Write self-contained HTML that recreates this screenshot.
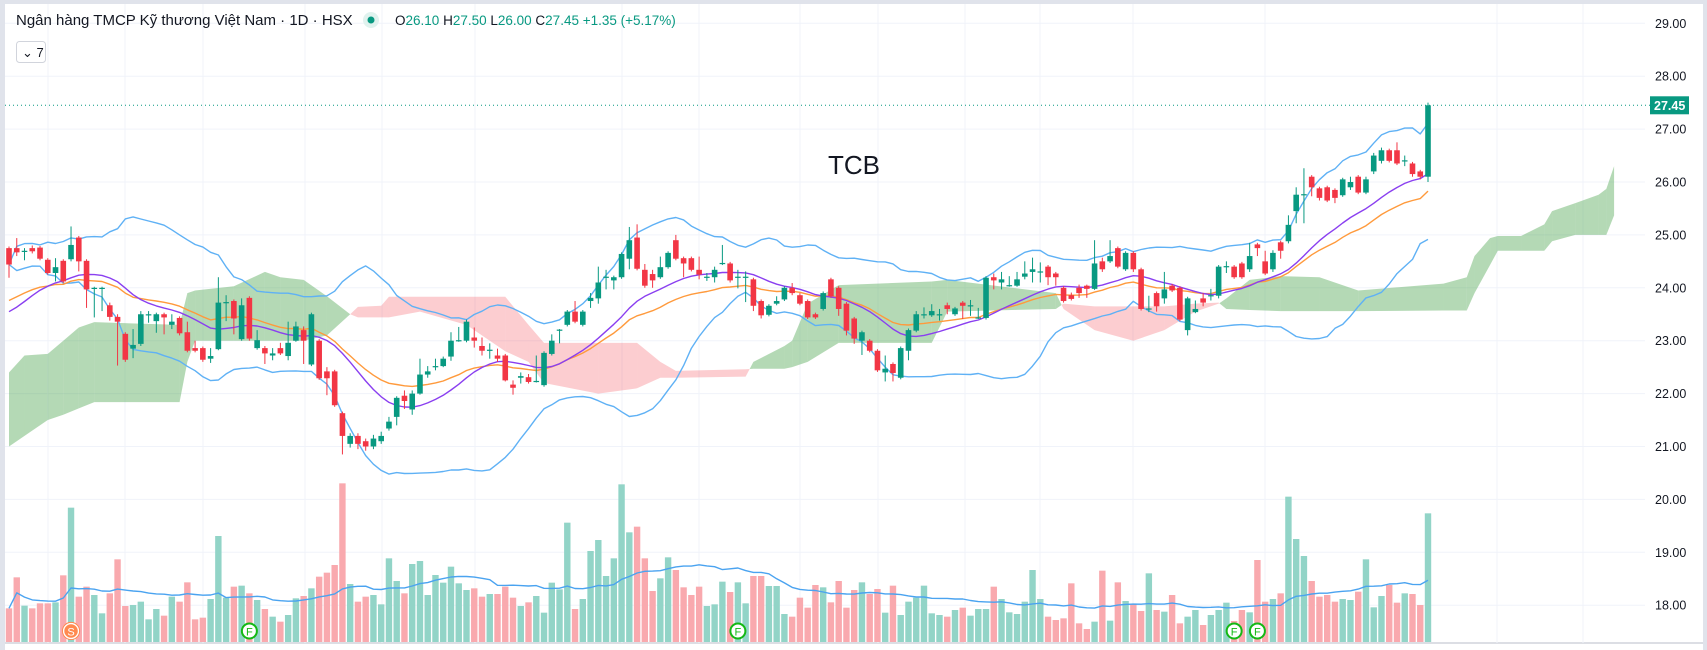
<!DOCTYPE html>
<html><head><meta charset="utf-8">
<style>
html,body{margin:0;padding:0;background:#fff;width:1707px;height:650px;overflow:hidden;}
svg{display:block;font-family:"Liberation Sans","Noto Sans CJK SC",sans-serif;}
</style></head>
<body>
<svg id="chart" width="1707" height="650" viewBox="0 0 1707 650" xmlns="http://www.w3.org/2000/svg">
  <rect x="0" y="0" width="1707" height="650" fill="#ffffff"/>
  <rect x="0" y="0" width="1707" height="4" fill="#e0e3eb"/>
  <rect x="0" y="0" width="5" height="650" fill="#e0e3eb"/>
  <rect x="1703" y="0" width="4" height="650" fill="#e0e3eb"/>
  <line x1="5" y1="643" x2="1703" y2="643" stroke="#d1d4dc" stroke-width="1.5"/>
  <g id="grid"></g>
  <g id="cloud"></g>
  <g id="volume"></g>
  <g id="lines"></g>
  <g id="candles"></g>
  <g id="axis"></g>
  <g id="markers"></g>
  <text x="828" y="174" font-size="26" fill="#131722">TCB</text>
  <g>
    <text x="16" y="25" font-size="15" fill="#131722">Ngân hàng TMCP Kỹ thương Việt Nam · 1D · HSX</text>
    <circle cx="371" cy="20" r="8" fill="#e0f2ee"/>
    <circle cx="371" cy="20" r="3.5" fill="#089981"/>
    <text x="395" y="25" font-size="13.5" fill="#089981"><tspan fill="#131722">O</tspan>26.10 <tspan fill="#131722">H</tspan>27.50 <tspan fill="#131722">L</tspan>26.00 <tspan fill="#131722">C</tspan>27.45 +1.35 (+5.17%)</text>
  </g>
  <g>
    <rect x="16.5" y="41.5" width="29" height="21" rx="3" fill="#fff" stroke="#d1d4dc"/>
    <text x="22" y="57" font-size="13" fill="#131722">⌄ 7</text>
  </g>
</svg>
<script>
// ---- price data (per daily bar) ----
const opens = [24.75,24.75,24.69,24.75,24.76,24.53,24.28,24.51,24.54,24.95,24.51,23.99,23.99,23.67,23.45,23.13,22.85,22.94,23.49,23.37,23.5,23.3,23.43,23.16,22.86,22.86,22.66,22.84,23.72,23.75,23.03,23.81,22.86,22.86,22.72,22.86,22.71,23.0,23.2,22.55,23.0,22.42,22.42,21.63,21.05,21.2,21.1,21.0,21.1,21.34,21.56,21.96,21.7,22.0,22.36,22.51,22.52,22.7,23.0,23.0,23.06,22.9,22.82,22.72,22.72,22.17,22.3,22.31,22.23,22.16,22.75,23.2,23.3,23.55,23.3,23.75,23.8,24.2,24.14,24.2,24.55,24.95,24.34,24.26,24.2,24.39,24.9,24.56,24.56,24.34,24.2,24.2,24.46,24.46,24.2,24.2,24.16,23.75,23.49,23.7,23.78,24.0,23.86,23.75,23.5,23.6,24.16,24.0,23.7,23.42,23.0,23.0,22.81,22.4,22.56,22.3,22.81,23.19,23.49,23.48,23.49,23.67,23.5,23.72,23.66,23.43,23.43,24.2,24.1,24.04,24.04,24.21,24.3,24.3,24.4,24.27,24.0,23.86,24.0,24.04,23.98,24.5,24.5,24.75,24.35,24.66,24.35,23.6,23.9,23.8,24.04,24.0,23.2,23.54,23.8,23.85,23.85,24.4,24.4,24.46,24.35,24.82,24.5,24.35,24.86,24.88,25.45,25.76,26.1,25.88,25.9,25.85,25.75,25.9,26.1,25.8,26.2,26.4,26.6,26.6,26.4,26.35,26.2,26.1];
const closes = [24.44,24.67,24.7,24.69,24.55,24.28,24.39,24.12,24.81,24.5,23.97,24.0,24.0,23.45,23.36,22.64,22.92,23.5,23.5,23.5,23.44,23.36,23.14,22.81,22.81,22.64,22.71,23.72,23.73,23.42,23.67,23.04,23.01,22.76,22.76,22.76,22.96,23.27,23.0,23.5,22.29,22.29,21.78,21.2,21.2,21.05,21.0,21.15,21.2,21.47,21.92,21.86,22.0,22.36,22.42,22.52,22.66,23.0,23.01,23.36,23.0,22.81,22.83,22.66,22.25,22.11,22.33,22.22,22.24,22.77,23.0,23.21,23.55,23.36,23.55,23.81,24.1,24.21,24.2,24.64,24.9,24.36,24.04,24.14,24.39,24.66,24.55,24.46,24.34,24.25,24.21,24.34,24.47,24.14,24.21,24.21,23.66,23.48,23.66,23.75,24.0,23.9,23.7,23.44,23.44,23.9,23.84,23.6,23.19,23.04,23.16,22.81,22.44,22.47,22.39,22.86,23.2,23.5,23.5,23.56,23.5,23.6,23.61,23.66,23.67,23.44,24.19,24.14,24.16,24.05,24.16,24.27,24.35,24.31,24.2,24.2,23.75,23.79,23.9,23.98,24.46,24.35,24.6,24.4,24.66,24.35,23.6,23.61,23.65,23.97,23.95,23.4,23.8,23.6,23.72,23.86,24.4,24.41,24.2,24.2,24.6,24.75,24.27,24.66,24.7,25.19,25.76,25.77,25.9,25.7,25.65,25.7,26.05,26.0,25.8,26.05,26.5,26.6,26.4,26.35,26.41,26.15,26.1,27.45];
const highs = [24.78,24.94,24.75,24.8,24.79,24.56,24.56,24.54,25.16,24.98,24.54,24.02,24.02,23.72,23.5,23.16,23.22,23.56,23.56,23.53,23.53,23.5,23.46,23.36,23.0,22.89,22.86,24.2,23.86,23.78,23.8,23.84,23.2,22.9,22.86,22.96,23.36,23.36,23.27,23.53,23.03,22.5,22.45,21.66,21.25,21.25,21.15,21.22,21.28,21.56,21.95,22.06,22.06,22.66,22.52,22.66,22.7,23.16,23.26,23.4,23.25,23.06,22.95,22.85,22.75,22.25,22.4,22.37,22.72,22.8,23.12,23.22,23.58,23.75,23.58,23.9,24.4,24.34,24.23,24.67,25.15,25.2,24.45,24.34,24.59,24.69,25.0,24.59,24.59,24.59,24.28,24.4,24.81,24.49,24.34,24.31,24.19,23.78,23.69,23.84,24.03,24.09,23.9,23.78,23.53,23.93,24.19,24.03,23.73,23.45,23.19,23.03,22.84,22.72,22.59,22.89,23.23,23.56,23.63,23.69,23.6,23.72,23.64,23.75,23.77,23.62,24.22,24.27,24.3,24.22,24.3,24.5,24.57,24.48,24.43,24.3,24.03,23.91,24.06,24.06,24.9,24.57,24.9,24.78,24.69,24.69,24.38,23.85,23.93,24.3,24.07,24.03,23.83,23.76,23.9,23.98,24.43,24.5,24.43,24.49,24.85,24.85,24.7,24.71,24.89,25.37,25.9,26.26,26.13,25.91,25.93,25.88,26.08,26.1,26.13,26.1,26.55,26.65,26.63,26.75,26.5,26.38,26.23,27.5];
const lows = [24.19,24.6,24.52,24.65,24.52,24.25,24.12,24.09,24.5,24.31,23.62,23.44,23.56,23.38,22.53,22.6,22.67,22.9,23.34,23.15,23.12,23.22,23.1,22.78,22.78,22.6,22.58,22.82,23.37,23.12,23.0,23.0,22.83,22.56,22.63,22.73,22.63,22.98,22.56,22.52,22.26,21.97,21.75,20.85,20.98,20.95,20.92,20.95,21.05,21.3,21.4,21.71,21.6,21.98,22.3,22.44,22.5,22.62,22.98,22.97,22.87,22.72,22.66,22.6,22.23,21.98,22.19,22.19,22.21,22.13,22.72,22.95,23.27,23.33,23.27,23.62,23.7,23.97,23.97,24.17,24.35,24.33,24.0,24.0,24.17,24.36,24.52,24.2,24.31,24.16,24.13,24.1,24.43,24.1,23.99,23.73,23.56,23.42,23.46,23.67,23.75,23.86,23.67,23.41,23.41,23.57,23.81,23.47,23.1,22.94,22.73,22.78,22.41,22.23,22.23,22.27,22.63,23.16,23.42,23.45,23.38,23.5,23.47,23.41,23.47,23.41,23.4,23.97,23.97,24.02,24.02,24.16,24.1,24.1,24.05,24.04,23.72,23.76,23.81,23.81,23.96,24.3,24.47,24.37,24.32,24.3,23.57,23.54,23.55,23.7,23.92,23.37,23.1,23.52,23.65,23.76,23.8,24.28,24.17,24.17,24.3,24.6,24.24,24.3,24.55,24.84,25.22,25.22,25.73,25.65,25.62,25.6,25.72,25.85,25.77,25.77,26.15,26.35,26.37,26.32,26.3,26.1,26.05,26.0];
// ---- volume (relative units) ----
const volumes = [101,194,109,101,116,116,119,200,403,136,166,141,86,146,248,108,111,121,68,99,79,136,121,179,68,73,129,318,133,166,169,146,126,99,76,61,81,131,138,161,196,208,231,476,174,121,136,141,113,251,183,146,234,243,141,201,178,226,176,156,161,136,144,144,166,133,108,119,138,88,178,158,358,99,129,273,306,198,251,473,329,346,251,153,191,254,216,164,141,166,108,113,181,150,179,116,198,198,168,168,84,76,133,103,171,164,119,183,103,156,179,144,159,88,169,81,121,133,169,86,81,76,96,103,79,99,99,166,129,89,84,121,216,129,76,66,71,176,56,39,61,214,64,179,123,114,93,206,96,91,141,56,76,96,51,81,96,118,63,96,89,246,121,129,146,436,309,258,183,136,141,121,129,126,151,248,104,138,171,118,146,144,111,386];
// ---- ichimoku cloud (bar offset, leading span A, leading span B) ----
const cloudBar = [0,2,5,7,9,11,22,23,24,29,33,35,38,41,44,45,48,49,53,59,64,67,69,76,81,84,86,95,96,100,101,103,107,119,121,135,136,140,145,149,153,156,157,160,164,169,174,185,188,189,191,192,195,198,199,202,205,206,207];
const spanA = [22.4,22.72,22.75,23.0,23.25,23.35,23.3,23.9,23.95,24.03,24.3,24.2,24.15,23.84,23.5,23.44,23.44,23.44,23.55,23.3,22.8,22.6,22.2,22.0,22.1,22.3,22.3,22.32,22.6,22.9,23.0,23.7,24.05,24.12,24.15,23.9,23.6,23.2,23.0,23.2,23.55,23.7,23.8,24.15,24.22,24.2,23.95,24.08,24.2,24.6,24.94,24.98,24.98,25.2,25.45,25.6,25.76,25.87,26.3];
const spanB = [21.0,21.2,21.5,21.6,21.72,21.84,21.84,22.6,23.0,23.0,23.0,23.0,23.0,23.1,23.5,23.64,23.66,23.83,23.83,23.83,23.83,23.3,22.96,22.96,22.96,22.6,22.43,22.46,22.47,22.47,22.5,22.6,22.96,22.96,23.55,23.6,23.7,23.65,23.65,23.65,23.7,23.72,23.6,23.58,23.56,23.56,23.56,23.57,23.57,23.9,24.43,24.7,24.7,24.7,24.88,25.0,25.0,25.0,25.37];
// indicator starting values
const fastSeed = 23.5, slowSeed = 23.7;
const priceTicks = [29,28,27,26,25,24,23,22,21,20,19,18];
const lastPrice = 27.45;
const markerBars = [8,31,94,158,161];
const markerLabels = ["S","F","F","F","F"];
const verticalGridX = [48,125,203,305,382,475,622,699,800,878,965,1040,1133,1265,1497,1583];

const NS = "http://www.w3.org/2000/svg";
const X0 = 9, X1 = 1428;
const step = (X1 - X0) / (closes.length - 1);
const xOf = i => X0 + i * step;
const yOf = p => 23.3 + (29 - p) * 52.9;
const VBASE = 642;
const yVol = v => VBASE - v / 3;
const PLOT_R = 1645;
function mk(tag, attrs, parent){const e=document.createElementNS(NS,tag);for(const k in attrs)e.setAttribute(k,attrs[k]);parent.appendChild(e);return e;}

// grid
const grid = document.getElementById('grid');
priceTicks.forEach(p=>{
  const l = mk('line',{x1:5,x2:PLOT_R,y1:yOf(p),y2:yOf(p),stroke:'#f0f3fa','stroke-width':1},grid);
  
  
});
verticalGridX.forEach(x=>{
  const l = mk('line',{x1:x,x2:x,y1:4,y2:643,stroke:'#f0f3fa','stroke-width':1},grid);
  
  
});

// cloud
const cloud = document.getElementById('cloud');
const GREEN='rgba(67,160,71,0.4)', RED='rgba(242,54,69,0.25)';
for(let k=0;k<cloudBar.length-1;k++){
  const xa=xOf(cloudBar[k]), xb=xOf(cloudBar[k+1]);
  const a1=spanA[k],b1=spanB[k],a2=spanA[k+1],b2=spanB[k+1];
  const d1=a1-b1,d2=a2-b2;
  if(d1*d2>=0){
    const col=(d1+d2)>=0?GREEN:RED;
    const pg=mk('polygon',{points:`${xa},${yOf(a1)} ${xb},${yOf(a2)} ${xb},${yOf(b2)} ${xa},${yOf(b1)}`,fill:col},cloud);
    
    
  } else {
    const t=d1/(d1-d2), xc=xa+(xb-xa)*t, pc=a1+(a2-a1)*t;
    const p1=mk('polygon',{points:`${xa},${yOf(a1)} ${xc},${yOf(pc)} ${xa},${yOf(b1)}`,fill:d1>0?GREEN:RED},cloud);
    
    
    const p2=mk('polygon',{points:`${xc},${yOf(pc)} ${xb},${yOf(a2)} ${xb},${yOf(b2)}`,fill:d2>0?GREEN:RED},cloud);
    
    
  }
}

// indicators
function sma(arr,n){return arr.map((_,i)=>{const s=Math.max(0,i-n+1);let t=0;for(let j=s;j<=i;j++)t+=arr[j];return t/(i-s+1);});}
function std(arr,n,m){return arr.map((_,i)=>{const s=Math.max(0,i-n+1);let t=0;for(let j=s;j<=i;j++)t+=(arr[j]-m[i])**2;return Math.sqrt(t/(i-s+1));});}
function ema(arr,n,seed){const k=2/(n+1);let e=seed;return arr.map(v=>(e=v*k+e*(1-k)));}
const basis=sma(closes,20), dev=std(closes,20,basis);
const upper=basis.map((b,i)=>b+2*dev[i]), lower=basis.map((b,i)=>b-2*dev[i]);
const fast=ema(ema(closes,10,fastSeed),6,fastSeed);
const slow=ema(closes,24,slowSeed);
const lines=document.getElementById('lines');
function poly(vals,yf,color,w,name,parent){
  const pts=vals.map((v,i)=>`${xOf(i).toFixed(1)},${yf(v).toFixed(1)}`).join(' ');
  const pl=mk('polyline',{points:pts,fill:'none',stroke:color,'stroke-width':w,'stroke-linejoin':'round'},parent);
  
  
}
poly(upper,yOf,'#5fb1f5',1.4,'bollinger-upper',lines);
poly(lower,yOf,'#5fb1f5',1.4,'bollinger-lower',lines);
poly(slow,yOf,'#ff9a3c',1.4,'moving-average-slow',lines);
poly(fast,yOf,'#8a3ff0',1.4,'moving-average-fast',lines);

// volume
const volG=document.getElementById('volume');
volumes.forEach((v,i)=>{
  if(i>=closes.length) return;
  const up=closes[i]>=opens[i];
  const r=mk('rect',{x:xOf(i)-3.2,y:yVol(v),width:6.4,height:VBASE-yVol(v),fill:up?'#92d4c7':'#f9a9ae'},volG);
  
  
});
poly(sma(volumes,20),yVol,'#4aa3f0',1.4,'volume-ma',volG);

// candles
const cg=document.getElementById('candles');
closes.forEach((c,i)=>{
  const o=opens[i], up=c>=o, col=up?'#089981':'#f23645', x=xOf(i);
  const g=mk('g',{},cg);
  
  
  mk('line',{x1:x,x2:x,y1:yOf(highs[i]),y2:yOf(lows[i]),stroke:col,'stroke-width':1},g);
  const top=yOf(Math.max(o,c)), h=Math.max(1.2,Math.abs(yOf(o)-yOf(c)));
  mk('rect',{x:x-2.8,y:top,width:5.6,height:h,fill:col},g);
});

// axis
const ax=document.getElementById('axis');
priceTicks.forEach(p=>{
  const t=mk('text',{x:1655,y:yOf(p)+4.5,'font-size':12.5,fill:'#131722'},ax);
  t.textContent=p.toFixed(2);
  
  
});
const ly=yOf(lastPrice);
const dl=mk('line',{x1:5,x2:1650,y1:ly,y2:ly,stroke:'#089981','stroke-width':1,'stroke-dasharray':'1 3'},ax);


const lb=mk('rect',{x:1650,y:ly-9,width:39,height:18,fill:'#089981'},ax);


const lt=mk('text',{x:1654,y:ly+4.5,'font-size':12.5,'font-weight':'bold',fill:'#fff'},ax);
lt.textContent=lastPrice.toFixed(2);



// markers
const mg=document.getElementById('markers');
markerBars.forEach((b,k)=>{
  const isS=markerLabels[k]==='S';
  const g=mk('g',{},mg);
  
  
  mk('circle',{cx:xOf(b),cy:631,r:7.5,fill:isS?'#ff8a50':'#ffffff',stroke:isS?'#ffffff':'#14b814','stroke-width':isS?1.5:2},g);
  if(isS) mk('circle',{cx:xOf(b),cy:631,r:8.6,fill:'none',stroke:'#ff8a50','stroke-width':1},g);
  const t=mk('text',{x:xOf(b),y:635.5,'font-size':11,'text-anchor':'middle',fill:isS?'#ffffff':'#14b814'},g);
  t.textContent=markerLabels[k];
});
</script>
</body></html>
